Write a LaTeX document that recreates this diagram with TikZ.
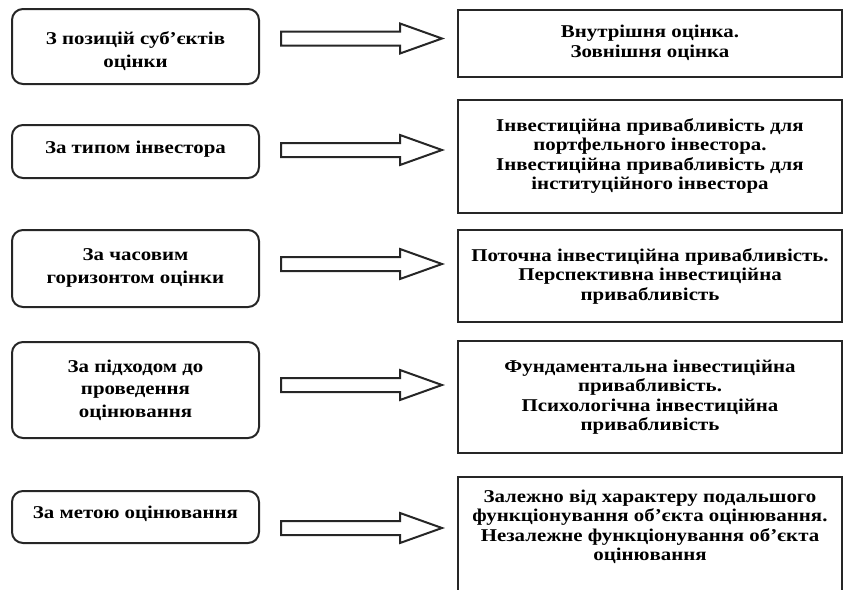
\documentclass[tikz,border=0pt]{standalone}
\usepackage{fontspec}
\setmainfont{Liberation Serif}[FakeStretch=1.16]
\begin{document}
\begin{tikzpicture}[x=1pt,y=-1pt,
  lbox/.style={draw=black!85,line width=2pt,rounded corners=11pt,minimum width=247pt,inner sep=0pt},
  rbox/.style={draw=black!85,line width=2pt,minimum width=384pt,inner sep=0pt},
  ltext/.style={inner sep=0pt,align=center,font=\bfseries\fontsize{18}{22.5}\selectfont},
  rtext/.style={inner sep=0pt,align=center,font=\bfseries\fontsize{18}{19.5}\selectfont},
  arr/.style={draw=black!85,line width=2pt,fill=white,line join=miter}]
\useasboundingbox (0,0) rectangle (843,589);
\newcommand\blockarrow[1]{\draw[arr] (281,#1-7) -- (400,#1-7) -- (400,#1-15) -- (442,#1) -- (400,#1+15) -- (400,#1+7) -- (281,#1+7) -- cycle;}
% left boxes
\node[lbox,minimum height=75pt] (l1) at (135.5,46.5) {};
\node[lbox,minimum height=53pt] (l2) at (135.5,151.5) {};
\node[lbox,minimum height=77pt] (l3) at (135.5,268.5) {};
\node[lbox,minimum height=96pt] (l4) at (135.5,390) {};
\node[lbox,minimum height=52pt] (l5) at (135.5,517) {};
\node[ltext] (l1t) at (135.5,51) {З позицій суб’єктів\\оцінки};
\node[ltext] (l2t) at (135.5,149) {За типом інвестора};
\node[ltext] (l3t) at (135.5,268) {За часовим\\горизонтом оцінки};
\node[ltext] (l4t) at (135.5,390) {За підходом до\\проведення\\оцінювання};
\node[ltext] (l5t) at (135.5,514) {За метою оцінювання};
% right boxes
\node[rbox,minimum height=67pt] (r1) at (650,43.5) {};
\node[rbox,minimum height=113pt] (r2) at (650,156.5) {};
\node[rbox,minimum height=92pt] (r3) at (650,276) {};
\node[rbox,minimum height=112pt] (r4) at (650,397) {};
\draw[draw=black!85,line width=2pt] (458,605) -- (458,477) -- (842,477) -- (842,605);
\node[rtext] (r1t) at (650,43) {Внутрішня оцінка.\\Зовнішня оцінка};
\node[rtext] (r2t) at (650,156) {Інвестиційна привабливість для\\портфельного інвестора.\\Інвестиційна привабливість для\\інституційного інвестора};
\node[rtext] (r3t) at (650,276) {Поточна інвестиційна привабливість.\\Перспективна інвестиційна\\привабливість};
\node[rtext] (r4t) at (650,397) {Фундаментальна інвестиційна\\привабливість.\\Психологічна інвестиційна\\привабливість};
\node[rtext] (r5t) at (650,527) {Залежно від характеру подальшого\\функціонування об’єкта оцінювання.\\Незалежне функціонування об’єкта\\оцінювання};
% arrows
\blockarrow{38.5}
\blockarrow{150}
\blockarrow{264}
\blockarrow{385}
\blockarrow{528}
\end{tikzpicture}
\end{document}
